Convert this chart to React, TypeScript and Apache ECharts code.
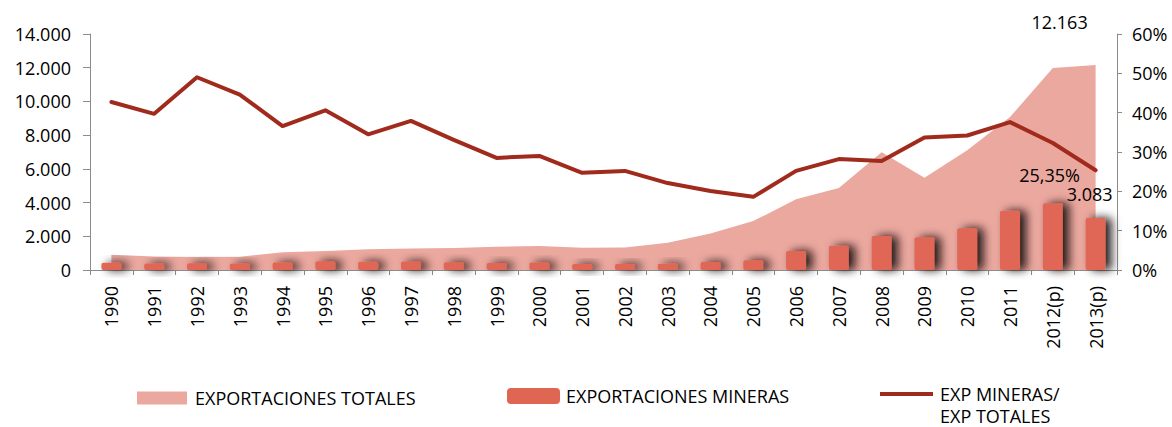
import React, { useEffect, useRef } from "react";
import * as echarts from "echarts";

const categories = ["1990","1991","1992","1993","1994","1995","1996","1997","1998","1999","2000","2001","2002","2003","2004","2005","2006","2007","2008","2009","2010","2011","2012(p)","2013(p)"];
const totalExports = [900, 800, 770, 790, 1050, 1130, 1230, 1270, 1300, 1380, 1420, 1320, 1340, 1620, 2170, 2900, 4200, 4860, 6980, 5470, 7100, 9070, 11980, 12163];
const miningExports = [430, 380, 400, 385, 450, 520, 490, 500, 455, 410, 440, 355, 355, 375, 480, 580, 1120, 1440, 2010, 1940, 2470, 3520, 3960, 3083];
const miningShare = [42.7, 39.7, 49.0, 44.6, 36.6, 40.6, 34.5, 37.9, 33.1, 28.5, 29.0, 24.7, 25.2, 22.1, 20.1, 18.6, 25.2, 28.2, 27.7, 33.7, 34.2, 37.6, 32.3, 25.35];
const leftTicks = { min: 0, max: 14000, interval: 2000 };
const rightTicks = { min: 0, max: 60, interval: 10 };

const NAME_TOTAL = "EXPORTACIONES TOTALES";
const NAME_MIN = "EXPORTACIONES MINERAS";
const NAME_RATIO = "EXP MINERAS/ EXP TOTALES";

const FONT = "'Open Sans', 'Noto Sans', sans-serif";
const C_AREA = "#EBA89F";
const C_BAR = "#E06654";
const C_LINE = "#A02B1C";
const C_AXIS = "#8C8C8C";
const AXIS_FS = 18;
const LEGEND_FS = 18;

const LINE_ICON = "path://M0,0L53,0L53,4L0,4Z M52.99,25.99L53,25.99L53,26L52.99,26Z";

const fmtThousands = (v: number) => {
  const s = String(Math.round(v));
  return s.replace(/\B(?=(\d{3})+(?!\d))/g, ".");
};

export default function App() {
  const ref = useRef<HTMLDivElement>(null);
  useEffect(() => {
    if (!ref.current) return;
    const chart = echarts.init(ref.current, undefined, { renderer: "svg" });
    const last = categories.length - 1;
    const option: any = {
      animation: false,
      backgroundColor: "#ffffff",
      textStyle: { fontFamily: FONT, color: "#000" },
      grid: { left: 90, right: 55, top: 34, bottom: 157, containLabel: false },
      legend: [
        {
          data: [NAME_TOTAL], left: 137, top: 389, padding: 0, itemWidth: 50, itemHeight: 13,
          icon: "rect", itemGap: 0,
          textStyle: { fontFamily: FONT, fontSize: LEGEND_FS, color: "#000", padding: [0, 0, 0, 3] },
        },
        {
          data: [NAME_MIN], left: 507, top: 387, padding: 0, itemWidth: 53, itemHeight: 16,
          icon: "roundRect", itemGap: 0,
          textStyle: { fontFamily: FONT, fontSize: LEGEND_FS, color: "#000", padding: [0, 0, 0, 1] },
        },
        {
          data: [{ name: NAME_RATIO, icon: LINE_ICON, itemStyle: { color: C_LINE } }],
          left: 880, top: 383, padding: 0, itemWidth: 53, itemHeight: 26, itemGap: 0,
          symbolKeepAspect: false,
          formatter: () => "EXP MINERAS/\nEXP TOTALES",
          textStyle: { fontFamily: FONT, fontSize: LEGEND_FS, color: "#000", lineHeight: 22, padding: [0, 0, 0, 2] },
        },
      ],
      xAxis: {
        type: "category",
        data: categories,
        boundaryGap: true,
        axisLine: { show: true, lineStyle: { color: C_AXIS, width: 1 } },
        axisTick: { show: true, length: 5, alignWithLabel: false, lineStyle: { color: C_AXIS } },
        axisLabel: { rotate: 90, margin: 16, fontFamily: FONT, fontSize: AXIS_FS, color: "#000", interval: 0 },
        splitLine: { show: false },
      },
      yAxis: [
        {
          type: "value",
          min: leftTicks.min, max: leftTicks.max, interval: leftTicks.interval,
          axisLine: { show: true, lineStyle: { color: C_AXIS } },
          axisTick: { show: true, length: 7, lineStyle: { color: C_AXIS } },
          axisLabel: { margin: 19, fontFamily: FONT, fontSize: AXIS_FS, color: "#000", formatter: (v: number) => fmtThousands(v) },
          splitLine: { show: false },
        },
        {
          type: "value",
          position: "right",
          min: rightTicks.min, max: rightTicks.max, interval: rightTicks.interval,
          axisLine: { show: true, lineStyle: { color: C_AXIS } },
          axisTick: { show: true, length: 5, lineStyle: { color: C_AXIS } },
          axisLabel: { margin: 15, fontFamily: FONT, fontSize: AXIS_FS, color: "#000", formatter: (v: number) => `${v}%` },
          splitLine: { show: false },
        },
      ],
      series: [
        {
          name: NAME_TOTAL,
          type: "line",
          yAxisIndex: 0,
          z: 1,
          symbol: "circle",
          symbolSize: 0,
          showSymbol: true,
          itemStyle: { color: C_AREA },
          lineStyle: { width: 0, color: C_AREA },
          areaStyle: { color: C_AREA, opacity: 1 },
          data: totalExports.map((v, i) =>
            i === last
              ? {
                  value: v,
                  label: {
                    show: true, position: "top", offset: [-36, -29],
                    fontFamily: FONT, fontSize: AXIS_FS, color: "#000",
                    formatter: (p: any) => fmtThousands(p.value),
                  },
                }
              : v
          ),
        },
        {
          name: NAME_MIN,
          type: "bar",
          yAxisIndex: 0,
          z: 2,
          barWidth: 20,
          itemStyle: {
            color: C_BAR,
            borderRadius: 2,
            shadowColor: "rgba(20,10,10,0.95)",
            shadowBlur: 10,
            shadowOffsetX: 6,
            shadowOffsetY: 0,
          },
          data: miningExports.map((v, i) =>
            i === last
              ? {
                  value: v,
                  label: {
                    show: true, position: "top", offset: [-6, -10],
                    fontFamily: FONT, fontSize: AXIS_FS, color: "#000",
                    formatter: (p: any) => fmtThousands(p.value),
                  },
                }
              : v
          ),
        },
        {
          name: NAME_RATIO,
          type: "line",
          yAxisIndex: 1,
          z: 3,
          symbol: "circle",
          symbolSize: 0,
          showSymbol: true,
          itemStyle: { color: C_LINE },
          lineStyle: { width: 4, color: C_LINE, cap: "round", join: "round" },
          data: miningShare.map((v, i) =>
            i === last
              ? {
                  value: v,
                  label: {
                    show: true, position: "bottom", offset: [-46, -9],
                    fontFamily: FONT, fontSize: AXIS_FS, color: "#000",
                    formatter: (p: any) => String(p.value.toFixed(2)).replace(".", ",") + "%",
                  },
                }
              : v
          ),
        },
      ],
    };
    chart.setOption(option);
    return () => chart.dispose();
  }, []);
  return <div ref={ref} style={{ width: 1172, height: 427, position: "absolute", left: 0, top: 0 }} />;
}
